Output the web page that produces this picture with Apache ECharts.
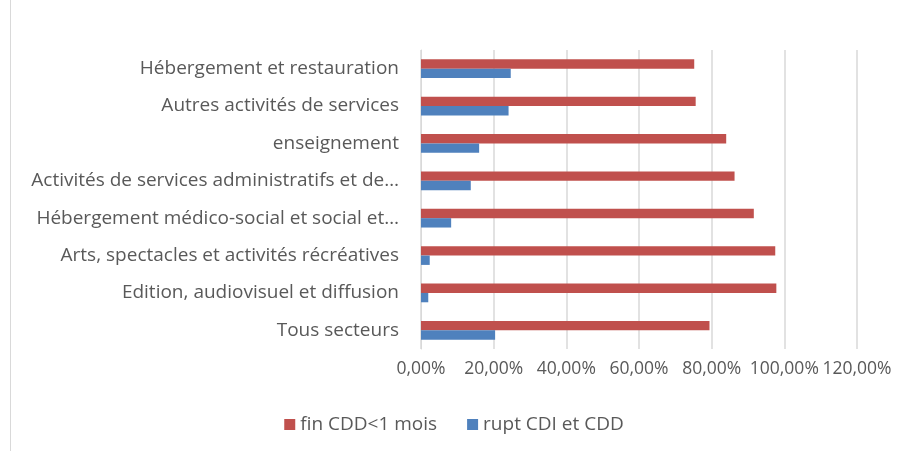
<!DOCTYPE html>
<html>
<head>
<meta charset="utf-8">
<script src="https://cdn.jsdelivr.net/npm/echarts@6/dist/echarts.min.js"></script>
<style>
html, body { margin: 0; padding: 0; background: #fff; }
#chart { width: 908px; height: 451px; }
</style>
</head>
<body>
<div id="chart"></div>
<script>
// categories, top to bottom as in the picture
var secteurs = [
	'Hébergement et restauration',
	'Autres activités de services',
	'enseignement',
	'Activités de services administratifs et de…',
	'Hébergement médico-social et social et…',
	'Arts, spectacles et activités récréatives',
	'Edition, audiovisuel et diffusion',
	'Tous secteurs'
];
// values in %
var finCDD = [75.2, 75.6, 84.0, 86.3, 91.6, 97.5, 97.8, 79.4];
var ruptCDI = [24.7, 24.1, 16.0, 13.7, 8.3, 2.4, 2.0, 20.4];
var xTicks = [0, 20, 40, 60, 80, 100, 120];

var myChart = echarts.init(document.getElementById('chart'));

function fmt(v){
	return v.toFixed(2).replace('.', ',') + '%';
}

var option = {
	animation : false,
	textStyle : { fontFamily : 'Open Sans' },
	graphic : [ {
		type : 'line',
		shape : { x1 : 10.5, y1 : 0, x2 : 10.5, y2 : 451 },
		style : { stroke : '#d9d9d9', lineWidth : 1 }
	} ],
	legend : {
		bottom : 12,
		left : 'center',
		itemWidth : 11,
		itemHeight : 11,
		itemGap : 30,
		icon : 'rect',
		textStyle : { color : '#595959', fontSize : 19, fontFamily : 'Open Sans' },
		data : [ 'fin CDD<1 mois', 'rupt CDI et CDD' ]
	},
	grid : {
		left : 421,
		right : 51,
		top : 50,
		bottom : 102
	},
	xAxis : {
		type : 'value',
		min : xTicks[0],
		max : xTicks[xTicks.length - 1],
		interval : 20,
		axisLine : { show : false },
		axisTick : { show : false },
		splitLine : { lineStyle : { color : '#d9d9d9', width : 1.5 } },
		axisLabel : {
			color : '#595959',
			fontSize : 17.5,
			margin : 11,
			showMinLabel : true,
			showMaxLabel : true,
			hideOverlap : false,
			formatter : function(v){ return fmt(v); }
		}
	},
	yAxis : {
		type : 'category',
		inverse : true,
		data : secteurs,
		axisLine : { lineStyle : { color : '#d9d9d9' } },
		axisTick : { show : false },
		axisLabel : { color : '#595959', fontSize : 19, margin : 22 }
	},
	series : [ {
		name : 'fin CDD<1 mois',
		type : 'bar',
		data : finCDD,
		barGap : '0%',
		barCategoryGap : '50%',
		itemStyle : { color : '#c0504d' }
	}, {
		name : 'rupt CDI et CDD',
		type : 'bar',
		data : ruptCDI,
		barGap : '0%',
		barCategoryGap : '50%',
		itemStyle : { color : '#4f81bd' }
	} ]
};

myChart.setOption(option);
</script>
</body>
</html>
